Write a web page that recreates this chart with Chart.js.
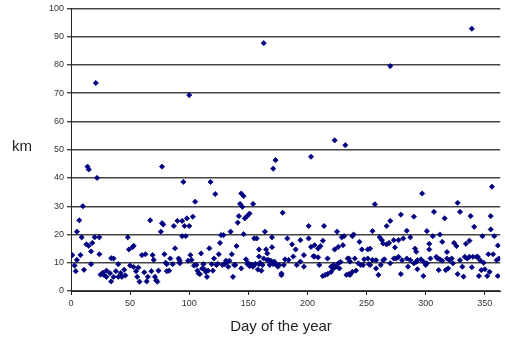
<!DOCTYPE html>
<html>
<head>
<meta charset="utf-8">
<script src="https://cdn.jsdelivr.net/npm/chart.js@4.4.0/dist/chart.umd.min.js"></script>
<style>
html, body { margin: 0; padding: 0; background: #fff; }
</style>
</head>
<body>
<canvas id="chart" width="505" height="341"></canvas>
<script>
// readings per quarter of the year: day of year and distance in km
var daysQ1 = [1,3,4,5,5,7,8,9,10,11,13,14,15,15,17,17,18,20,21,22,24,24,25,27,28,30,30,33,34,34,36,36,38,40,40,42,43,45,46,48,49,50,52,53,53,55,56,57,58,60,62,63,64,65,67,68,69,70,71,72,73,74,76,77,77,78,79,80,81];
var kmQ1 = [12.7,9,7,11,21,25,12.7,19,30,7.5,16.5,44,43,16,9.5,14,17,19,73.6,40,19,13,5.8,6.5,5.6,7.2,5,6.3,3.4,11.6,11.5,5,7,9.5,5,6.3,5,7.5,5.5,19,14.7,9,15.5,16,8.5,7,5,8.3,3.3,12.7,6.6,13,3.4,5,25,7,12.7,11,5,3.8,3.3,7.2,21,44,24,23.5,13,10,7];

var daysQ2 = [81,83,84,86,87,88,90,91,92,92,94,94,95,96,97,98,99,100,101,100,103,105,106,107,108,110,112,113,115,117,118,120,121,122,123,125,126,127,129,130,132,133,134,135,136,137,138,140,141,142,143,144,145,146,146,147,148,149,150,151,151,153,154,155,156,157,158,159,159,159,161,163,163,164,165,166,166,168,169,170,170,171,171,173,173,175,178,178,179,181,
    102,104,109,111,114,116,119,124,128,131,139,144,149,152,154,160,162,167,172,176,180];
var kmQ2 = [9.5,7.2,11.5,9.5,23,15.1,24.8,11.5,10.7,9.8,24.8,19.4,38.6,23,19.4,25.7,10.7,23,12.7,69.3,26.3,31.6,9.2,7.2,6.2,13.3,9.5,7.6,5,15.1,38.6,7.2,11.5,34.3,9.2,13,17,19.8,19.8,9.5,10.3,8.6,10.7,21,13,5,9.2,15.9,24.2,26.5,30.8,34.5,29.8,33.6,20.1,25.7,11.2,26.5,9.8,27.4,8.8,9.2,30.8,18.6,9.6,18.6,7.6,12.2,14.7,9.5,7.2,11.5,87.7,21,14.7,10.9,13.3,9.2,10.7,19,15.5,43.3,9.5,46.3,9.5,8.6,5.6,6.2,27.7,11.2,
    11,9,6,8,6.8,7.2,9.5,9.6,9.2,10.7,9.2,8,9.6,9.2,8.6,10,9.2,11,10.4,9.2,9.2];

var daysQ3 = [183,184,187,188,190,191,194,194,197,197,201,201,203,203,205,206,206,209,209,210,211,213,213,214,215,217,217,220,220,222,223,223,225,226,226,227,229,230,231,232,233,234,235,236,238,238,239,240,243,244,245,246,248,251,253,253,255,255,257,258,261,262,263,264,265,267,267,269,270,270,270,273,273,
    222,224,228,235,241,236,247,251,252,258,260,264];
var kmQ3 = [18.6,11,16.5,12.2,14.7,9.2,18,10.4,12.7,8.6,23,18.6,47.5,15.6,12.3,16.2,12.2,15,11.9,9.2,15.9,17.8,5.3,23,5.7,11.5,6,8.6,6.8,9.2,53.3,14.7,21,15.6,9.8,8,19,16.2,19.4,51.6,5.7,11.5,6,10.4,19.4,6.8,20,11.5,9.8,17.4,9.2,14.7,11.2,14.7,15,9.2,21.2,11,30.7,8,19,9.2,18,16.8,11.2,16.5,23,17,9.8,79.6,24.8,18,11.5,
    8,8.6,10.3,11.5,7.2,5.7,9.2,11.5,9.5,10.9,5.7,10.9];

var daysQ4 = [274,275,277,279,279,280,281,284,284,287,287,290,290,291,292,293,293,296,297,298,298,301,301,303,303,304,306,307,309,311,312,312,314,314,316,317,318,318,319,322,323,324,326,327,327,329,329,332,333,334,337,337,338,339,339,340,341,344,345,346,348,349,350,352,353,354,355,355,356,357,358,361,361,362,
    277,285,292,300,310,320,331,335,343,347,360];
var kmQ4 = [15.4,11.5,18,27,6,10.9,18.6,21.3,11.5,19,10.9,26.3,9.8,15,13.9,7.7,10.9,11.2,34.5,10.4,5.3,21.2,9.8,16.7,14.7,11.5,19.4,28,12.1,7.4,11.2,20,17.4,10.7,25.7,7.4,11.5,13.8,8,11.5,9.8,17,15.9,31.2,6,28,10.9,5.1,12.1,16.7,12.1,17.8,26.5,92.8,8.4,12.1,22.7,12.1,5.3,10.9,19.4,10,7.7,5.3,13,6.8,26.5,21.8,36.9,13,19.4,16.1,5.3,11.5,
    12.1,8.6,10.3,9.2,11.5,10.9,8.6,11.5,12.1,7.4,10.9];

var xTicks = [0,50,100,150,200,250,300,350];
var yLabel = "km";
var xLabel = "Day of the year";

var days = daysQ1.concat(daysQ2, daysQ3, daysQ4);
var km = kmQ1.concat(kmQ2, kmQ3, kmQ4);
var points = [];
for (var i = 0; i < days.length; i++) {
    points.push({x: days[i], y: km[i]});
}

// axis titles drawn by hand: "km" sits horizontal on the left
var titles = {
    id: 'titles',
    afterDraw: function (chart) {
        var ctx = chart.ctx;
        ctx.save();
        ctx.fillStyle = '#222';
        ctx.font = '15px "Liberation Sans", Arial, sans-serif';
        ctx.textAlign = 'center';
        ctx.textBaseline = 'middle';
        ctx.fillText(yLabel, 22, 147);
        ctx.fillText(xLabel, 281, 327);
        ctx.restore();
    }
};

var ctx = document.getElementById("chart");
var chart = new Chart(ctx, {
    type: 'scatter',
    data: {
        datasets: [{
            data: points,
            pointStyle: 'rectRot',
            pointRadius: 2.6,
            borderWidth: 0.8,
            backgroundColor: '#000080',
            borderColor: '#000080'
        }]
    },
    options: {
        responsive: false,
        animation: false,
        layout: {padding: {top: 8, right: 0, bottom: 0, left: 0}},
        plugins: {legend: {display: false}, tooltip: {enabled: false}},
        scales: {
            x: {
                type: 'linear',
                min: 0,
                max: 363,
                afterBuildTicks: function (scale) {
                    scale.ticks = xTicks.map(function (v) { return {value: v}; });
                },
                afterFit: function (scale) { scale.height = 50; },
                grid: {drawOnChartArea: false, drawTicks: true, tickLength: 4, color: '#222'},
                border: {color: '#222', width: 1},
                ticks: {
                    color: '#333',
                    padding: 3,
                    maxRotation: 0,
                    font: {family: '"Liberation Sans", Arial, sans-serif', size: 9}
                }
            },
            y: {
                min: 0,
                max: 100,
                afterFit: function (scale) { scale.width = 71; },
                grid: {color: '#444', lineWidth: 1.4, tickLength: 4},
                border: {color: '#222', width: 1},
                ticks: {
                    stepSize: 10,
                    color: '#333',
                    padding: 3,
                    font: {family: '"Liberation Sans", Arial, sans-serif', size: 9}
                }
            }
        }
    },
    plugins: [titles]
});
</script>
</body>
</html>
